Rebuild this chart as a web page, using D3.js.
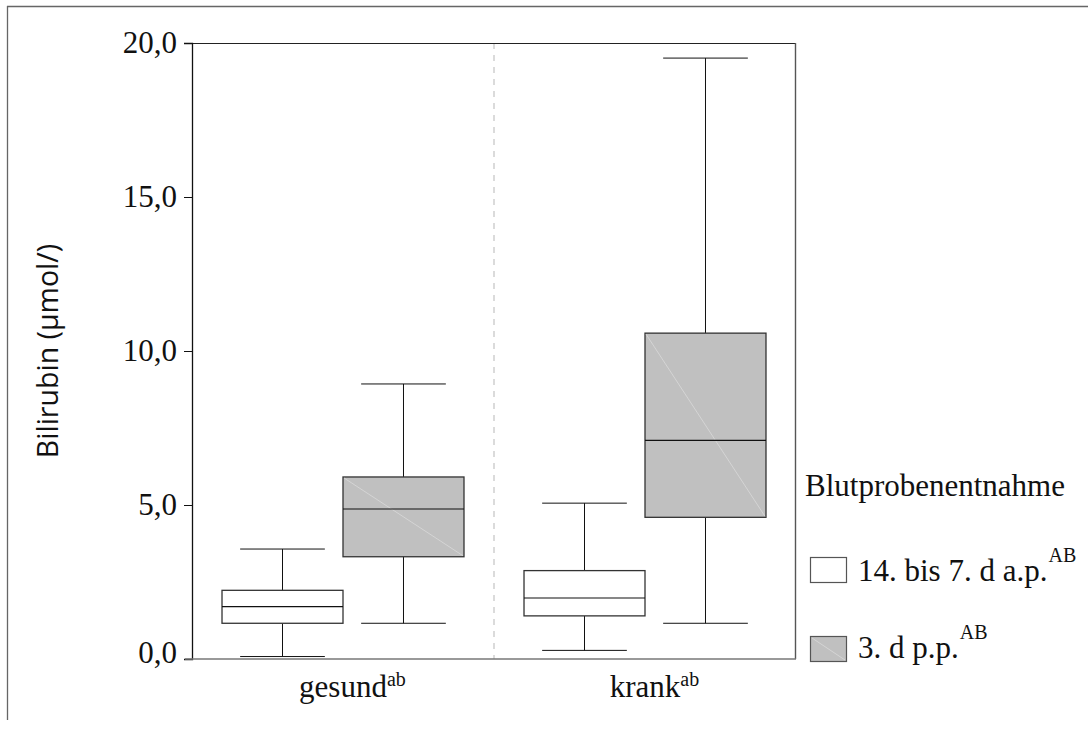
<!DOCTYPE html>
<html>
<head>
<meta charset="utf-8">
<script src="https://cdn.jsdelivr.net/npm/d3@7"></script>
<style>
  html, body { margin: 0; padding: 0; background: #fff; }
  svg { display: block; }
</style>
</head>
<body>
<svg id="chart" width="1088" height="729"></svg>
<script>
// ---- data ----
const categories = ["gesund", "krank"];
const categorySup = ["ab", "ab"];
const series = ["14. bis 7. d a.p.", "3. d p.p."];
const seriesSup = ["AB", "AB"];
const seriesFill = ["#ffffff", "#c0c0c0"];
// values per series, ordered as categories
const whiskerLow  = [[0.08, 0.28], [1.16, 1.16]];
const q1          = [[1.16, 1.40], [3.32, 4.60]];
const median      = [[1.70, 1.98], [4.87, 7.10]];
const q3          = [[2.23, 2.87], [5.91, 10.58]];
const whiskerHigh = [[3.57, 5.06], [8.93, 19.51]];
const yTicks = [0, 5, 10, 15, 20];
const yLabel = "Bilirubin (µmol/)";
const legendTitle = "Blutprobenentnahme";

// ---- layout ----
const svg = d3.select("#chart");
const plot = { left: 192, right: 796, top: 43, bottom: 659 };
const serif = "'Liberation Serif', 'Times New Roman', serif";

// outer frame (only top & left visible)
svg.append("line").attr("x1", 7).attr("x2", 1088).attr("y1", 6.5).attr("y2", 6.5)
  .attr("stroke", "#666").attr("stroke-width", 1.3);
svg.append("line").attr("x1", 7.5).attr("x2", 7.5).attr("y1", 6).attr("y2", 720)
  .attr("stroke", "#666").attr("stroke-width", 1.3);

const x = d3.scaleBand().domain(categories).range([plot.left, plot.right]).padding(0);
const xi = d3.scaleBand().domain(series).range([0, x.bandwidth()]).paddingInner(0).paddingOuter(0.248);
const y = d3.scaleLinear().domain([0, 20]).range([plot.bottom, plot.top]);

// divider between groups
svg.append("line")
  .attr("x1", x("krank")).attr("x2", x("krank"))
  .attr("y1", plot.top).attr("y2", plot.bottom)
  .attr("stroke", "#d0d0d0").attr("stroke-width", 1.5).attr("stroke-dasharray", "6,6");

// frame of plot: top (black), right (gray)
svg.append("line").attr("x1", plot.left).attr("x2", plot.right).attr("y1", plot.top + 0.5).attr("y2", plot.top + 0.5)
  .attr("stroke", "#222").attr("stroke-width", 1.2);
svg.append("line").attr("x1", plot.right - 0.5).attr("x2", plot.right - 0.5).attr("y1", plot.top).attr("y2", plot.bottom)
  .attr("stroke", "#555").attr("stroke-width", 1.4);

// boxes
const capFrac = 0.7;
series.forEach((s, si) => {
  categories.forEach((c, ci) => {
    const bx = x(c) + xi(s);
    const bw = xi.bandwidth();
    const cx = bx + bw / 2;
    const g = svg.append("g");
    // whiskers
    g.append("line").attr("x1", cx).attr("x2", cx).attr("y1", y(whiskerHigh[si][ci])).attr("y2", y(q3[si][ci]))
      .attr("stroke", "#111").attr("stroke-width", 1);
    g.append("line").attr("x1", cx).attr("x2", cx).attr("y1", y(q1[si][ci])).attr("y2", y(whiskerLow[si][ci]))
      .attr("stroke", "#111").attr("stroke-width", 1);
    [whiskerHigh[si][ci], whiskerLow[si][ci]].forEach(v => {
      g.append("line").attr("x1", cx - bw * capFrac / 2).attr("x2", cx + bw * capFrac / 2)
        .attr("y1", y(v)).attr("y2", y(v)).attr("stroke", "#111").attr("stroke-width", 1);
    });
    // box
    g.append("rect").attr("x", bx).attr("y", y(q3[si][ci]))
      .attr("width", bw).attr("height", y(q1[si][ci]) - y(q3[si][ci]))
      .attr("fill", seriesFill[si]).attr("stroke", "#333").attr("stroke-width", 1.3);
    if (si === 1) {
      g.append("line").attr("x1", bx + 1).attr("y1", y(q3[si][ci]) + 1)
        .attr("x2", bx + bw - 1).attr("y2", y(q1[si][ci]) - 1)
        .attr("stroke", "#d9d9d9").attr("stroke-width", 0.8);
    }
    g.append("line").attr("x1", bx).attr("x2", bx + bw).attr("y1", y(median[si][ci])).attr("y2", y(median[si][ci]))
      .attr("stroke", "#111").attr("stroke-width", 1.2);
  });
});

// y axis
const yAxis = d3.axisLeft(y).tickValues(yTicks).tickSize(8).tickPadding(7)
  .tickFormat(d => d3.format(".1f")(d).replace(".", ","));
const ya = svg.append("g").attr("transform", `translate(${plot.left},0)`).call(yAxis);
ya.select(".domain").attr("stroke", "#111").attr("stroke-width", 1.3);
ya.selectAll(".tick line").attr("stroke", "#111");
ya.selectAll(".tick text").attr("font-family", serif).attr("font-size", 31).attr("fill", "#111")
  .attr("dy", (d) => d === 0 ? "0.1em" : "0.32em");

// x baseline (gray, extends left)
svg.append("line").attr("x1", 185).attr("x2", plot.right).attr("y1", plot.bottom).attr("y2", plot.bottom)
  .attr("stroke", "#777").attr("stroke-width", 1.6);

// category labels
categories.forEach((c, ci) => {
  const cx = x(c) + x.bandwidth() / 2;
  const t = svg.append("text").attr("x", cx).attr("y", 697)
    .attr("font-family", serif).attr("font-size", 31).attr("fill", "#111")
    .attr("text-anchor", "middle").text(c);
  const w = t.node().getComputedTextLength();
  svg.append("text").attr("x", cx + w / 2).attr("y", 686)
    .attr("font-family", serif).attr("font-size", 20).attr("fill", "#111").text(categorySup[ci]);
});

// y label
svg.append("text")
  .attr("transform", `translate(58,${351}) rotate(-90)`)
  .attr("text-anchor", "middle")
  .attr("font-family", "'Open Sans', sans-serif").attr("font-size", 28.5).attr("fill", "#111")
  .text(yLabel);

// legend
svg.append("text").attr("x", 805).attr("y", 496)
  .attr("font-family", serif).attr("font-size", 31).attr("fill", "#111").text(legendTitle);
const legY = [557, 636];
const legBase = [581, 658];
series.forEach((s, si) => {
  svg.append("rect").attr("x", 810.5).attr("y", legY[si] + 0.5).attr("width", 36).attr("height", 25)
    .attr("fill", seriesFill[si]).attr("stroke", "#555").attr("stroke-width", 1.2);
  if (si === 1) {
    svg.append("line").attr("x1", 812).attr("y1", legY[si] + 2).attr("x2", 845).attr("y2", legY[si] + 24)
      .attr("stroke", "#d9d9d9").attr("stroke-width", 0.8);
  }
  const t = svg.append("text").attr("x", 858).attr("y", legBase[si])
    .attr("font-family", serif).attr("font-size", 31).attr("fill", "#111").text(s);
  const w = t.node().getComputedTextLength();
  svg.append("text").attr("x", 858 + w + 1).attr("y", legBase[si] - 19)
    .attr("font-family", serif).attr("font-size", 20).attr("fill", "#111").text(seriesSup[si]);
});
</script>
</body>
</html>
